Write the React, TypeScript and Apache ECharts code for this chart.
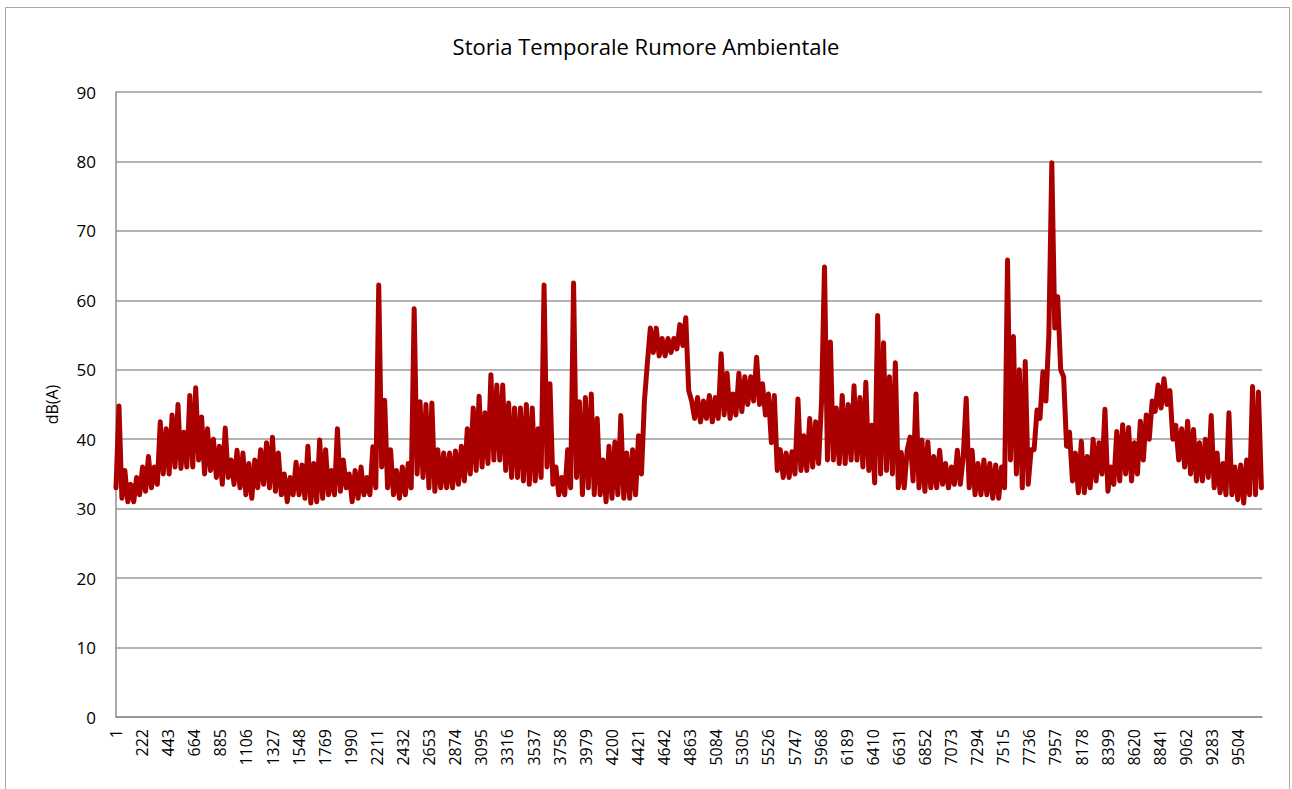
import React, { useEffect, useRef } from "react";
import * as echarts from "echarts";

const TITLE = "Storia Temporale Rumore Ambientale";
const Y_NAME = "dB(A)";
const SAMPLE_STEP = 25; // samples between stored readings
const LAST_SAMPLE = 9705;
const X_TICK_STEP = 221;
const X_TICK_LABELS = [
  1, 222, 443, 664, 885, 1106, 1327, 1548, 1769, 1990, 2211, 2432, 2653, 2874,
  3095, 3316, 3537, 3758, 3979, 4200, 4421, 4642, 4863, 5084, 5305, 5526, 5747,
  5968, 6189, 6410, 6631, 6852, 7073, 7294, 7515, 7736, 7957, 8178, 8399, 8620,
  8841, 9062, 9283, 9504,
];

const DB_PART1 = [
  33, 44.8, 31.5, 35.5, 31, 33.5, 31, 34.5, 32, 36, 32.5, 37.5, 33, 36, 33.5, 42.5,
  35, 41.5, 35, 43.5, 36, 45, 35.8, 41, 36, 46.3, 36, 47.4, 37, 43.2, 35, 41.5,
  35.5, 40, 34.5, 39, 33.5, 41.6, 34.5, 37, 33.5, 38.4, 33, 38, 32, 36.5, 31.5, 37,
  33, 38.5, 33.5, 39.5, 33, 40.3, 32.5, 38, 32, 35, 31, 34.5, 32, 36.7, 32, 36.3,
  31.5, 39, 30.8,
];
const DB_PART2 = [
  36.5, 31, 39.9, 31.5, 38.5, 32, 35.5, 32, 41.5, 32.5, 37, 33, 35, 31, 35.5, 31.5,
  36, 32, 34.5, 32, 38.9, 33, 62.2, 36, 45.6, 33, 38.5, 32, 35.5, 31.5, 36, 32,
  36.5, 33, 58.8, 35, 45.4, 34.5, 45, 33, 45.2, 32.5, 38.5, 33, 38, 33, 38, 33,
  38.3, 33.5, 39, 34, 41.5, 35, 44.5, 35.5, 46.2, 36, 43.8, 36.5, 49.3, 37, 47.8, 37,
];
const DB_PART3 = [
  47.8, 35.5, 45.2, 34.5, 44.5, 34.5, 44.5, 34, 45, 33.5, 44.5, 34, 41.5, 34.5, 62.2, 36,
  48, 33.5, 36, 32, 34.5, 32, 38.5, 33, 62.5, 34.5, 45.4, 32, 46, 33, 46.5, 32,
  43, 32, 37, 31, 39, 31.5, 39.6, 32, 43.4, 31.5, 38, 31.5, 38.5, 32, 40.5, 35,
  45.5, 51, 56, 52.5, 56, 52, 54.5, 52, 54.5, 52.5, 54.5, 53, 56.5, 53.5, 57.5, 47,
];
const DB_PART4 = [
  45.5, 43, 46, 42.5, 45.5, 43, 46.3, 42.5, 46, 43, 52.3, 43.5, 49.5, 43, 46.5, 43.5,
  49.5, 44, 49, 45, 49, 45.5, 51.8, 45, 48, 43.5, 46.5, 39.5, 46.3, 35.5, 38.5, 34.5,
  38, 34.5, 38.2, 35, 45.8, 35.5, 40.5, 35.5, 43, 36, 42.5, 36.5, 45.5, 64.8, 37, 54,
  37, 44.5, 36.5, 46.3, 36.5, 45, 37, 47.7, 37, 46, 36, 48.2, 35.5, 42, 33.7, 57.8,
  35,
];
const DB_PART5 = [
  53.9, 35.5, 49, 35, 51, 33, 38.1, 33, 38.4, 40.3, 34, 46.5, 33, 39.9, 32.5, 39.6,
  33, 37.5, 33, 38.4, 33.5, 36.5, 33, 36, 33.5, 38.4, 33.5, 37.5, 45.9, 33, 38.4, 32,
  36.5, 32, 37, 32, 36.5, 31.5, 36.3, 31.5, 36, 33, 65.8, 37, 54.8, 35, 50, 33,
  51.2, 33.5, 38.5, 38.5, 44.2, 43, 49.7, 45.5, 55, 79.8, 56, 60.5, 50, 49, 39, 41,
];
const DB_PART6 = [
  34, 38, 32.3, 39.7, 32.3, 37.5, 33, 40, 34, 39.5, 35, 44.3, 32.5, 36, 33.5, 41.1,
  34, 42.1, 35, 41.7, 34, 39.5, 35, 42.6, 37, 43.5, 40, 45.5, 44, 47.8, 44.5, 48.7,
  45, 47, 40, 42, 37, 41.5, 36, 42.6, 35, 41.4, 34, 39.5, 34, 40, 34.5, 43.4,
  33, 38, 32.3, 36.5, 32, 43.8, 32, 36, 31.3, 36.3, 30.8, 37, 32, 47.6, 32, 46.8,
  33,
];
const DB_VALUES = [
  ...DB_PART1,
  ...DB_PART2,
  ...DB_PART3,
  ...DB_PART4,
  ...DB_PART5,
  ...DB_PART6,
];

export default function App() {
  const ref = useRef<HTMLDivElement>(null);
  useEffect(() => {
    if (!ref.current) return;
    const chart = echarts.init(ref.current, undefined, { renderer: "svg" });
    const data = DB_VALUES.map((v, i) => [i * SAMPLE_STEP, v]);
    const font = "'Open Sans', 'Noto Sans', sans-serif";
    chart.setOption({
      animation: false,
      backgroundColor: "#ffffff",
      title: {
        text: TITLE,
        left: "center",
        top: 30,
        textStyle: { fontFamily: font, fontSize: 22, fontWeight: "normal", color: "#000000" },
      },
      graphic: [
        {
          type: "rect",
          shape: { x: 5.5, y: 7.5, width: 1284, height: 800 },
          style: { fill: "none", stroke: "#a6a6a6", lineWidth: 1 },
          silent: true,
          z: 0,
        },
      ],
      grid: { left: 116, right: 30, top: 92, bottom: 72, containLabel: false },
      xAxis: {
        type: "value",
        min: 0,
        max: LAST_SAMPLE,
        interval: X_TICK_STEP,
        axisLine: { show: true, lineStyle: { color: "#8f8f8f", width: 1.5 } },
        axisTick: { show: false },
        splitLine: { show: false },
        axisLabel: {
          rotate: 90,
          margin: 12,
          fontFamily: font,
          fontSize: 16,
          color: "#000000",
          showMaxLabel: false,
          hideOverlap: false,
          formatter: (v: number) => {
            const k = Math.round(v / X_TICK_STEP);
            return k * X_TICK_STEP === Math.round(v) && X_TICK_LABELS[k] !== undefined
              ? String(X_TICK_LABELS[k])
              : "";
          },
        },
      },
      yAxis: {
        type: "value",
        min: 0,
        max: 90,
        interval: 10,
        name: Y_NAME,
        nameLocation: "middle",
        nameGap: 56,
        nameTextStyle: { fontFamily: font, fontSize: 16, color: "#000000" },
        axisLine: { show: true, lineStyle: { color: "#8f8f8f", width: 1.5 } },
        axisTick: { show: false },
        splitLine: { show: true, lineStyle: { color: "#9a9a9a", width: 1.5 } },
        axisLabel: { margin: 20, fontFamily: font, fontSize: 17, color: "#000000" },
      },
      series: [
        {
          type: "line",
          data,
          showSymbol: false,
          symbol: "none",
          lineStyle: { color: "#aa0000", width: 5, cap: "round", join: "round" },
          itemStyle: { color: "#aa0000" },
          z: 3,
        },
      ],
    });
    return () => chart.dispose();
  }, []);
  return (
    <div
      ref={ref}
      style={{ position: "fixed", left: 0, top: 0, width: 1292, height: 789 }}
    />
  );
}
